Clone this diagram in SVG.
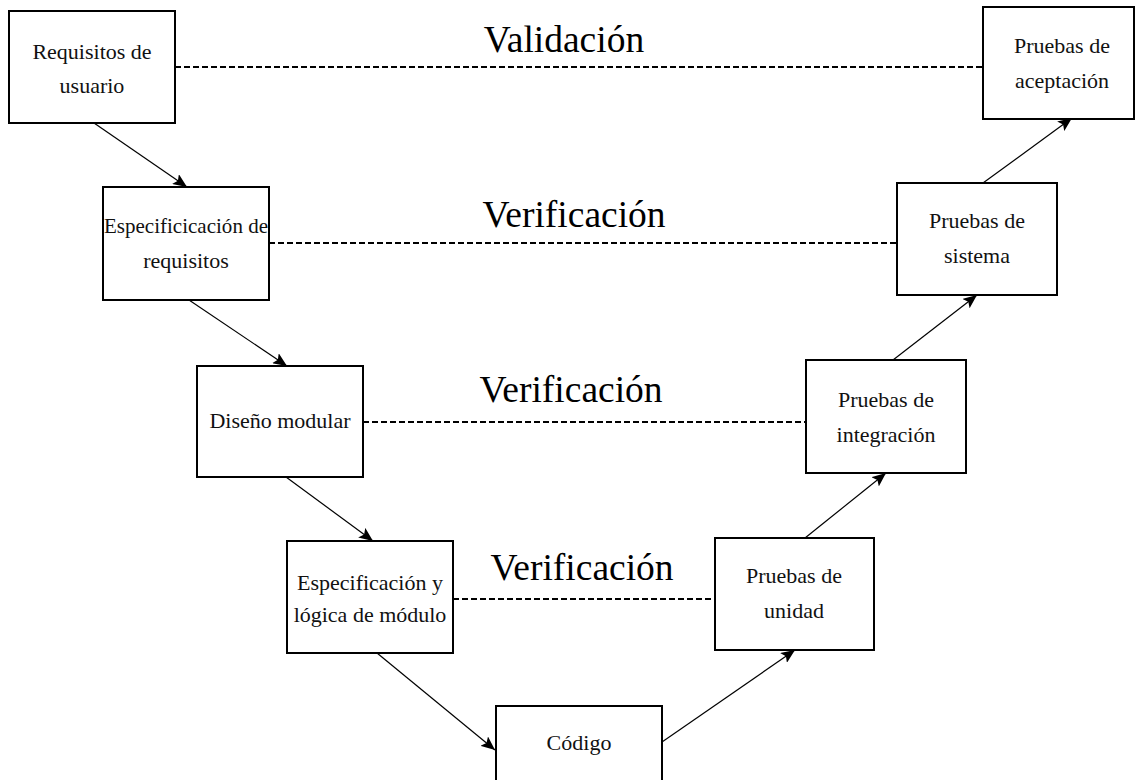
<svg xmlns="http://www.w3.org/2000/svg" width="1135" height="780" viewBox="0 0 1135 780">
<defs>
<style>
.box{fill:#fff;stroke:#000;stroke-width:2}
.t{font-family:'Liberation Serif','DejaVu Serif',serif;font-size:22px;fill:#111;text-anchor:middle}
.lbl{font-family:'Liberation Serif','DejaVu Serif',serif;font-size:37.5px;fill:#000;text-anchor:middle}
.dash{stroke:#000;stroke-width:1.8;stroke-dasharray:6 3;fill:none}
.arr{stroke:#000;stroke-width:1.2;fill:none;marker-end:url(#ah)}
</style>
<marker id="ah" markerUnits="userSpaceOnUse" markerWidth="16" markerHeight="12" refX="14" refY="6" orient="auto">
<path d="M0,0 L14,6 L0,12 L3,6 z" fill="#000"/>
</marker>
</defs>
<rect width="1135" height="780" fill="#fff"/>
<g id="connectors">
<line class="dash" x1="175" y1="67" x2="983" y2="67"/>
<line class="dash" x1="269" y1="243" x2="897" y2="243"/>
<line class="dash" x1="363" y1="422" x2="806" y2="422"/>
<line class="dash" x1="453" y1="599" x2="715" y2="599"/>
<line class="arr" x1="94" y1="123" x2="187" y2="187"/>
<line class="arr" x1="189" y1="300" x2="287" y2="366"/>
<line class="arr" x1="286" y1="477" x2="373" y2="541"/>
<line class="arr" x1="377" y1="653" x2="495" y2="750"/>
<line class="arr" x1="662" y1="742" x2="795" y2="650"/>
<line class="arr" x1="805" y1="538" x2="886" y2="473"/>
<line class="arr" x1="893" y1="360" x2="977" y2="295"/>
<line class="arr" x1="983" y1="183" x2="1072" y2="118"/>
</g>
<g id="labels">
<text class="lbl" x="564" y="52">Validación</text>
<text class="lbl" x="574" y="227">Verificación</text>
<text class="lbl" x="571" y="402">Verificación</text>
<text class="lbl" x="582" y="580">Verificación</text>
</g>
<g id="n-requisitos-usuario">
<rect class="box" x="9" y="11" width="166" height="112"/>
<text class="t" x="92" y="59">Requisitos de</text>
<text class="t" x="92" y="93">usuario</text>
</g>
<g id="n-especificacion-requisitos">
<rect class="box" x="103" y="187" width="166" height="113"/>
<text class="t" x="186" y="233" textLength="164" lengthAdjust="spacingAndGlyphs">Especificicación de</text>
<text class="t" x="186" y="268">requisitos</text>
</g>
<g id="n-diseno-modular">
<rect class="box" x="197" y="366" width="166" height="111"/>
<text class="t" x="280" y="428">Diseño modular</text>
</g>
<g id="n-especificacion-logica">
<rect class="box" x="287" y="541" width="166" height="112"/>
<text class="t" x="370" y="590">Especificación y</text>
<text class="t" x="370" y="622">lógica de módulo</text>
</g>
<g id="n-codigo">
<rect class="box" x="496" y="706" width="166" height="112"/>
<text class="t" x="579" y="750">Código</text>
</g>
<g id="n-pruebas-unidad">
<rect class="box" x="715" y="538" width="159" height="112"/>
<text class="t" x="794" y="583">Pruebas de</text>
<text class="t" x="794" y="618">unidad</text>
</g>
<g id="n-pruebas-integracion">
<rect class="box" x="806" y="360" width="160" height="113"/>
<text class="t" x="886" y="407">Pruebas de</text>
<text class="t" x="886" y="442">integración</text>
</g>
<g id="n-pruebas-sistema">
<rect class="box" x="897" y="183" width="160" height="112"/>
<text class="t" x="977" y="228">Pruebas de</text>
<text class="t" x="977" y="263">sistema</text>
</g>
<g id="n-pruebas-aceptacion">
<rect class="box" x="983" y="7" width="151" height="112"/>
<text class="t" x="1062" y="53">Pruebas de</text>
<text class="t" x="1062" y="88">aceptación</text>
</g>
</svg>
